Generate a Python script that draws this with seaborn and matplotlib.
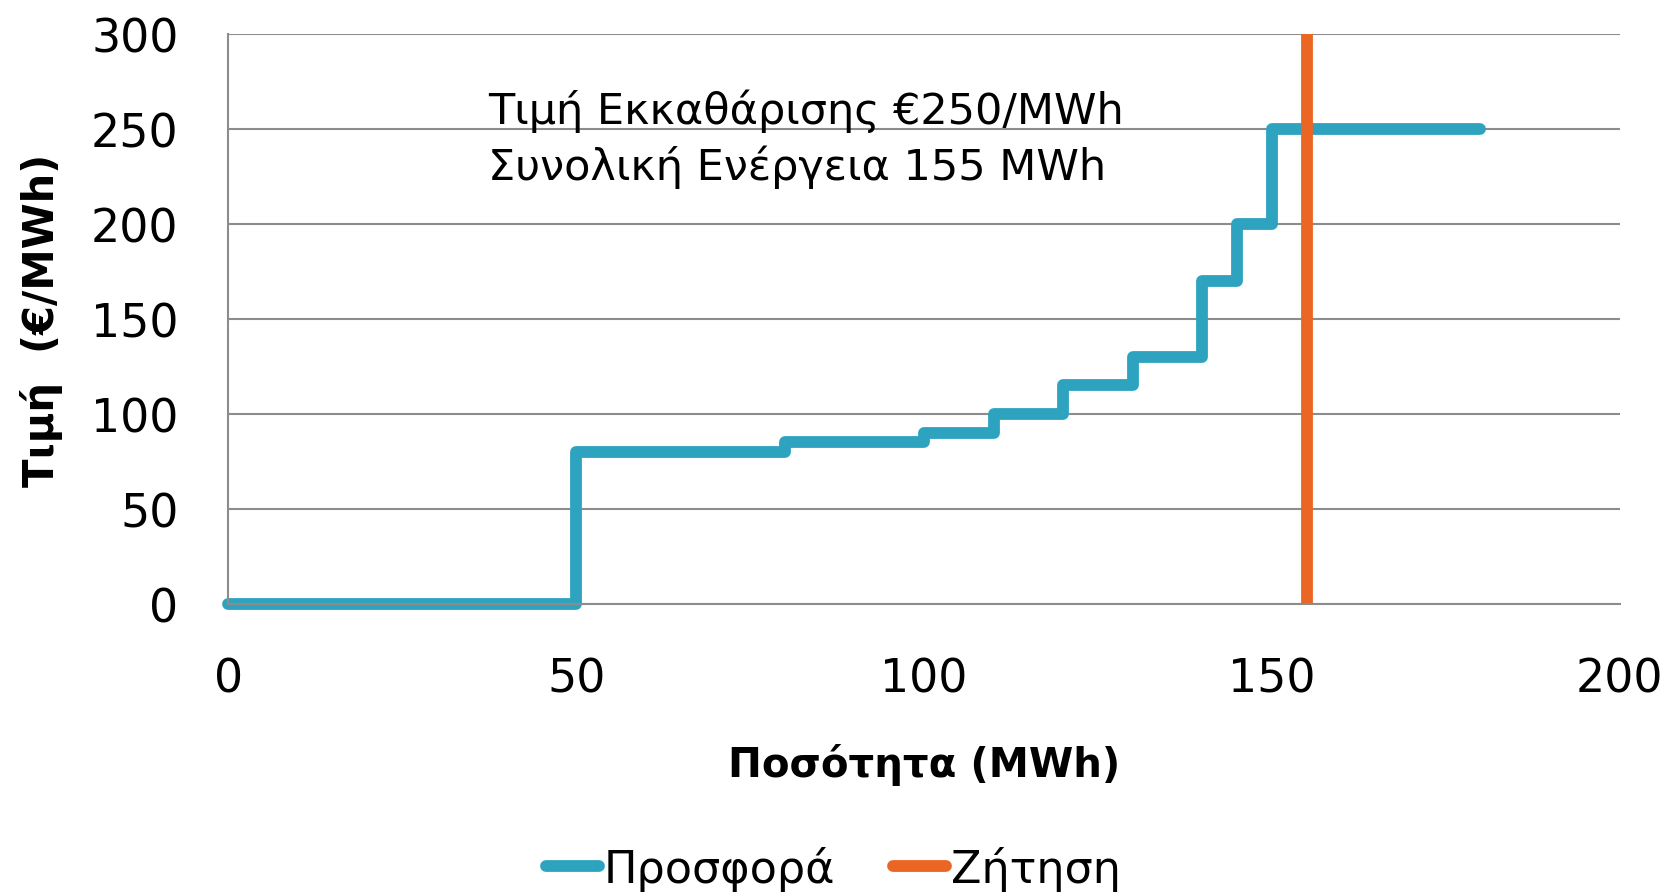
import numpy as np
import pandas as pd
import matplotlib
matplotlib.use("Agg")
import matplotlib.pyplot as plt
import seaborn as sns

quantity = [0, 50, 80, 100, 110, 120, 130, 140, 145, 150, 180]
price = [0, 80, 85, 90, 100, 115, 130, 170, 200, 250, 250]
demand_q = [155, 155]
demand_p = [0, 300]
x_ticks = [0, 50, 100, 150, 200]
y_ticks = [0, 50, 100, 150, 200, 250, 300]

BLUE = "#2EA3C0"
ORANGE = "#EC6623"
GRID = "#8C8C8C"

sns.set_style("white")
plt.rcParams["font.family"] = ["DejaVu Sans"]
plt.rcParams["text.color"] = "black"
plt.rcParams["axes.labelcolor"] = "black"
plt.rcParams["xtick.labelcolor"] = "black"
plt.rcParams["ytick.labelcolor"] = "black"

fig = plt.figure(figsize=(16.8, 8.95), dpi=100)
ax = fig.add_axes([0.136, 0.324, 0.828, 0.637])

supply = pd.DataFrame({"q": quantity, "p": price})
demand = pd.DataFrame({"q": demand_q, "p": demand_p})
sns.lineplot(data=supply, x="q", y="p", ax=ax, color=BLUE, linewidth=8.5,
             drawstyle="steps-post", label="Προσφορά", clip_on=False,
             estimator=None, solid_capstyle="round", solid_joinstyle="round")
sns.lineplot(data=demand, x="q", y="p", ax=ax, color=ORANGE, linewidth=8.5,
             sort=False, estimator=None, label="Ζήτηση", clip_on=False,
             solid_capstyle="butt")

ax.set_xlim(0, 200)
ax.set_ylim(0, 300)
ax.set_xticks(x_ticks)
ax.set_yticks(y_ticks)
ax.yaxis.grid(True, color=GRID, linewidth=1.5)
ax.set_axisbelow(True)
for s in ["top", "right"]:
    ax.spines[s].set_visible(False)
for s in ["left", "bottom"]:
    ax.spines[s].set_color(GRID)
    ax.spines[s].set_linewidth(1.5)
ax.tick_params(axis="both", which="both", length=12, width=1.5, color=GRID,
               labelsize=33, direction="out")
ax.tick_params(axis="x", pad=26)
ax.tick_params(axis="y", pad=24)

ax.set_xlabel("Ποσότητα (MWh)", fontsize=29, fontweight="bold", labelpad=30)
ax.set_ylabel("Τιμή  (€/MWh)", fontsize=30, fontweight="bold", labelpad=20)

ax.text(37.3, 245, "Τιμή Εκκαθάρισης €250/MWh\nΣυνολική Ενέργεια 155 MWh",
        fontsize=31, va="center", ha="left", linespacing=1.37)

leg = fig.legend(loc="center", bbox_to_anchor=(0.496, 0.029), ncol=2, frameon=False,
                 fontsize=32, handlelength=1.2, handletextpad=0.1, columnspacing=1.3)
if ax.get_legend():
    ax.get_legend().remove()
for h in leg.get_lines():
    h.set_solid_capstyle("round")

fig.savefig("out.png", dpi=100)
